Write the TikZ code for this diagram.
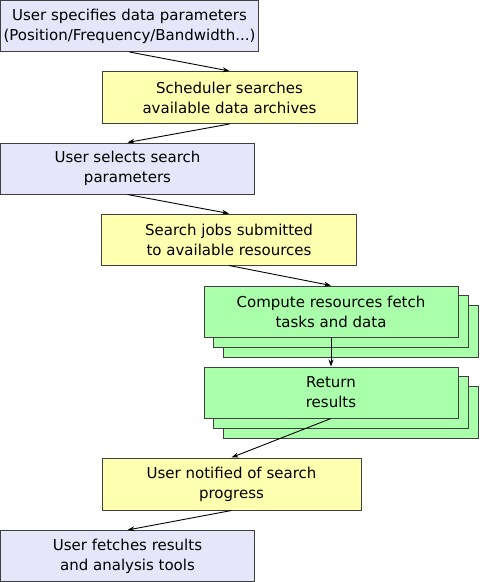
\documentclass[tikz,border=0pt]{standalone}
\usepackage{fontspec}
\setmainfont{DejaVu Sans}
\usetikzlibrary{arrows.meta}
\pgfdeclarelayer{background}
\pgfsetlayers{background,main}
\definecolor{lav}{RGB}{230,230,250}
\definecolor{yel}{RGB}{255,255,176}
\definecolor{grn}{RGB}{170,255,170}
\definecolor{edge}{RGB}{64,64,64}
\tikzset{
  box/.style={draw=edge, line width=1pt, inner sep=0pt, align=center,
    font=\fontsize{15}{20}\selectfont},
  lavbox/.style={box, fill=lav},
  yelbox/.style={box, fill=yel},
  grnbox/.style={box, fill=grn},
  arr/.style={-{Stealth[length=7pt,width=5pt]}, line width=0.9pt, black},
}
\begin{document}
\begin{tikzpicture}[x=1pt,y=-1pt]
\useasboundingbox (0,0) rectangle (480,582);
\node[lavbox, minimum width=258pt, minimum height=51pt] (b1) at (129.5,26) {User specifies data parameters\\(Position/Frequency/Bandwidth...)};
\node[yelbox, minimum width=255pt, minimum height=52pt] (b2) at (229.5,97.5) {Scheduler searches\\available data archives};
\node[lavbox, minimum width=254pt, minimum height=51pt] (b3) at (127.5,168.5) {User selects search\\parameters};
\node[yelbox, minimum width=255pt, minimum height=51pt] (b4) at (229,239.5) {Search jobs submitted\\to available resources};
\node[grnbox, minimum width=254pt, minimum height=51pt] (g1) at (331,311.5) {Compute resources fetch\\tasks and data};
\node[grnbox, minimum width=254pt, minimum height=51pt] (g2) at (331,392.5) {Return\\results};
\node[yelbox, minimum width=259pt, minimum height=52pt] (b7) at (231.5,484) {User notified of search\\progress};
\node[lavbox, minimum width=254pt, minimum height=51pt] (b8) at (127.5,556) {User fetches results\\and analysis tools};
\begin{pgfonlayer}{background}
\foreach \g in {g1,g2}{
  \foreach \s in {20,10}{
    \draw[draw=edge, line width=1pt, fill=grn] ([shift={(\s,\s)}]\g.north west) rectangle ([shift={(\s,\s)}]\g.south east);
  }
}
\end{pgfonlayer}
\draw[arr] (b1.south) -- (b2.north);
\draw[arr] (b2.south) -- (b3.north);
\draw[arr] (b3.south) -- (b4.north);
\draw[arr] (b4.south) -- (g1.north);
\draw[arr] (g1.south) -- (g2.north);
\draw[arr] (g2.south) -- (b7.north);
\draw[arr] (b7.south) -- (b8.north);
\end{tikzpicture}
\end{document}
